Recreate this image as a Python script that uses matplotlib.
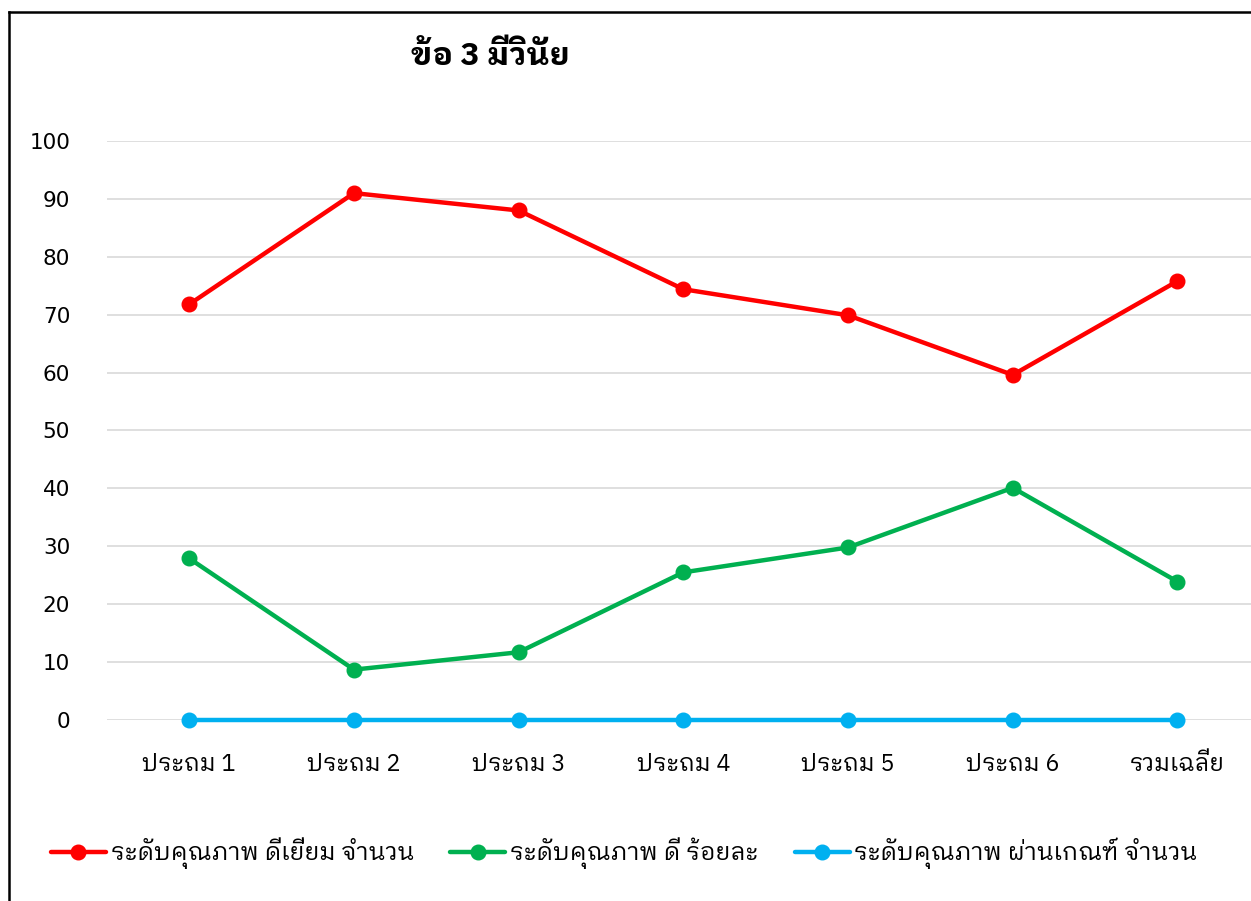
import matplotlib
matplotlib.use("Agg")
import matplotlib.pyplot as plt
from matplotlib.lines import Line2D

THAI = ["IBM Plex Sans Thai Looped", "DejaVu Sans"]

categories = ["ประถม 1", "ประถม 2", "ประถม 3", "ประถม 4", "ประถม 5", "ประถม 6", "รวมเฉลี่ย"]
excellent = [71.8, 91.0, 88.0, 74.4, 69.9, 59.6, 75.8]
good = [27.9, 8.7, 11.7, 25.5, 29.8, 40.1, 23.9]
passed = [0, 0, 0, 0, 0, 0, 0]

series_labels = ["ระดับคุณภาพ ดีเยี่ยม จำนวน", "ระดับคุณภาพ ดี ร้อยละ", "ระดับคุณภาพ ผ่านเกณฑ์ จำนวน"]
colors = ["#FF0000", "#00B050", "#00B0F0"]

fig = plt.figure(figsize=(12.51, 9.01), dpi=100)
ax = fig.add_axes([0.0855, 0.2009, 0.9215, 0.6426])

x = range(len(categories))
for vals, lab, c in zip([excellent, good, passed], series_labels, colors):
    ax.plot(x, vals, color=c, lw=3.2, marker="o", markersize=10.5, label=lab,
            solid_capstyle="round", zorder=3, clip_on=False)

ax.set_xlim(-0.5, len(categories) - 0.5)
ax.set_ylim(0, 100)
ax.set_yticks(range(0, 101, 10))
ax.yaxis.grid(True, color="#D9D9D9", lw=1.2)
ax.set_axisbelow(True)
for s in ax.spines.values():
    s.set_visible(False)
ax.tick_params(axis="both", length=0)
ax.tick_params(axis="y", pad=26.5, labelsize=15.5)
ax.set_xticks(list(x))
ax.set_xticklabels(categories, family=THAI, fontsize=17)
ax.tick_params(axis="x", pad=24)
for t in ax.get_yticklabels():
    t.set_family("DejaVu Sans")

fig.text(0.392, 0.938, "ข้อ 3 มีวินัย", family=THAI, fontsize=23, fontweight="bold",
         ha="center", va="center")

fig.legend(loc="center", bbox_to_anchor=(0.499, 0.053), ncol=3, frameon=False,
           prop={"family": THAI, "size": 17.5}, handlelength=2.26, handletextpad=0.2,
           columnspacing=1.5)

# page border seen in the crop
fig.add_artist(Line2D([9 / 1251, 9 / 1251], [0, 1 - 12 / 901], color="black", lw=1.8,
                      transform=fig.transFigure))
fig.add_artist(Line2D([9 / 1251, 1], [1 - 12 / 901, 1 - 12 / 901], color="black", lw=1.8,
                      transform=fig.transFigure))

fig.savefig("out.png", dpi=100)
